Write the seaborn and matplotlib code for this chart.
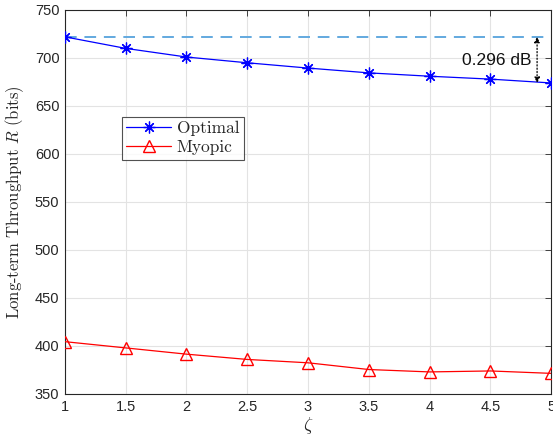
import pandas as pd
import matplotlib.pyplot as plt
import seaborn as sns

zeta = [1, 1.5, 2, 2.5, 3, 3.5, 4, 4.5, 5]
optimal = [722, 710, 701, 695, 689.5, 684.5, 681, 678, 674]
myopic = [404.5, 398, 391.5, 386, 382.5, 375.5, 373, 374, 371.5]
upper_bound = 722
gap_text = '0.296 dB'


def main():
    sns.set_style('white')
    plt.rcParams['font.family'] = ['Liberation Sans', 'DejaVu Sans']
    plt.rcParams['mathtext.fontset'] = 'cm'

    fig = plt.figure(figsize=(5.53, 4.42), dpi=100)
    ax = fig.add_axes([0.1175, 0.1086, 0.8790, 0.8688])

    ax.axhline(upper_bound, color='#62a9df', lw=1.4, ls=(0, (6, 4)), zorder=1)

    # two separate calls: asterisk (line art) and triangle (filled) can't share one
    sns.lineplot(x=zeta, y=optimal, color='#0000ff', marker=(8, 2, 0),
                 markersize=8.5, markeredgecolor='#0000ff', markeredgewidth=0.9,
                 lw=0.9, label='Optimal', ax=ax, zorder=3)
    sns.lineplot(x=zeta, y=myopic, color='#ff0000', marker='^',
                 markersize=9, markerfacecolor='none', markeredgecolor='#ff0000',
                 markeredgewidth=1.0, lw=0.9, label='Myopic', ax=ax, zorder=3)

    # gap annotation
    ax.annotate('', xy=(4.885, optimal[-1]), xytext=(4.885, upper_bound),
                arrowprops=dict(arrowstyle='<|-|>', ls=':', lw=0.9, color='black',
                                mutation_scale=8, shrinkA=0, shrinkB=0))
    ax.text(4.55, 697, gap_text, ha='center', va='center', fontsize=12.5,
            color='#111111')

    ax.set_xlim(1, 5)
    ax.set_ylim(350, 750)
    ax.set_xticks(zeta)
    ax.set_xticklabels(['1', '1.5', '2', '2.5', '3', '3.5', '4', '4.5', '5'])
    ax.set_yticks(range(350, 751, 50))
    ax.grid(True, color='#e3e3e3', lw=0.8)
    ax.tick_params(direction='in', top=True, right=True, length=4, width=0.6,
                   labelsize=10.5, colors='#262626', pad=4)
    for s in ax.spines.values():
        s.set_color('#262626')
        s.set_linewidth(0.8)

    ax.set_xlabel(r'$\zeta$', fontsize=13, color='#262626', labelpad=1)
    ax.set_ylabel(r'Long-term Throughput $R$ (bits)', family='cmr10',
                  fontsize=12, color='#262626', labelpad=6)

    leg = ax.legend(loc='upper left', bbox_to_anchor=(0.117, 0.722),
                    prop={'family': 'cmr10', 'size': 12.5}, frameon=True,
                    fancybox=False, edgecolor='#262626', borderpad=0.25,
                    handlelength=2.6, handletextpad=0.3, labelspacing=0.2,
                    borderaxespad=0)
    leg.get_frame().set_linewidth(0.8)

    fig.savefig('out.png', dpi=100)


if __name__ == '__main__':
    main()
